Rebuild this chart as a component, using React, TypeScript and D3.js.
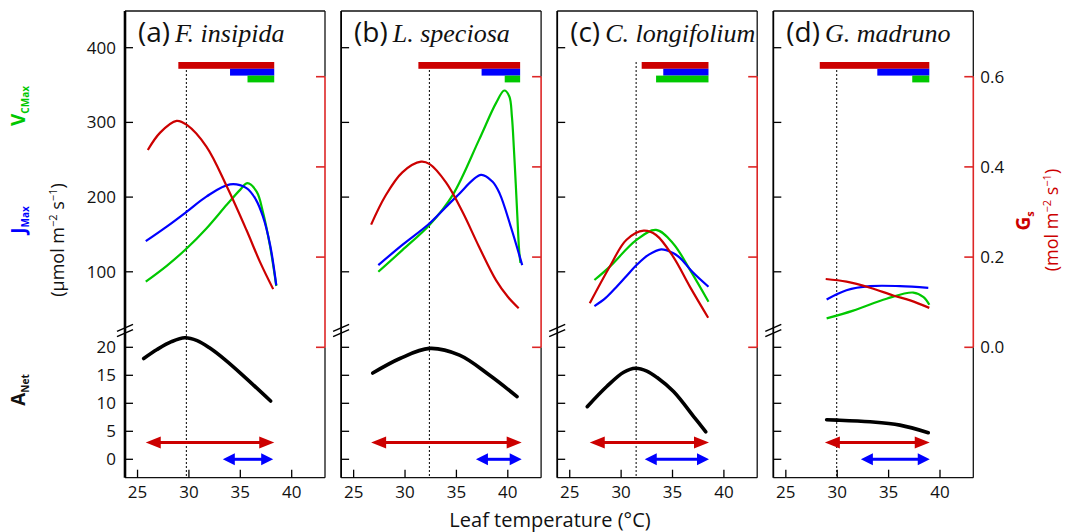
import React from "react";
import * as d3 from "d3";

// ---------- data ----------
const panelLetters = ["(a)", "(b)", "(c)", "(d)"];
const speciesNames = ["F. insipida", "L. speciosa", "C. longifolium", "G. madruno"];
const xTicks = [25, 30, 35, 40];
const vTicks = [100, 200, 300, 400];
const aTicks = [0, 5, 10, 15, 20];
const gsTicks = [0.0, 0.2, 0.4, 0.6];

// stomatal conductance Gs (mol m-2 s-1)
const gsTemps = [
  [26.0, 27.2, 28.8, 29.8, 31.7, 33.7, 35.6, 36.9, 38.2],
  [26.7, 28.07, 29.74, 31.56, 32.4, 34.0, 35.6, 37.2, 38.85, 40.0, 41.06],
  [26.95, 28.9, 30.5, 32.2, 33.4, 35.06, 36.7, 38.47],
  [28.88, 30.9, 33.2, 35.45, 37.1, 38.96],
];
const gsValues = [
  [0.4375, 0.476, 0.502, 0.493, 0.445, 0.356, 0.26, 0.19, 0.129],
  [0.272, 0.335, 0.388, 0.4115, 0.406, 0.365, 0.3, 0.223, 0.149, 0.112, 0.0865],
  [0.0975, 0.179, 0.238, 0.2586, 0.249, 0.201, 0.134, 0.0656],
  [0.1514, 0.1455, 0.132, 0.115, 0.104, 0.0874],
];

// Jmax (umol m-2 s-1)
const jTemps = [
  [25.8, 27.84, 29.8, 31.7, 34.0, 35.6, 36.5, 37.2, 37.9, 38.5],
  [27.4, 29.74, 32.4, 35.0, 37.4, 38.5, 39.2, 40.3, 41.4],
  [27.4, 28.5, 29.5, 30.5, 31.5, 32.7, 33.9, 35.0, 35.7, 37.0, 38.5],
  [28.97, 30.9, 33.2, 36.1, 38.86],
];
const jValues = [
  [141, 160.5, 180.6, 200.7, 217, 212, 197, 174, 136, 82],
  [109, 136, 165, 200.7, 229.7, 220.8, 205, 160, 109],
  [54, 65, 79, 94, 109, 123, 130, 125.5, 119, 99, 80],
  [63, 75.4, 80.8, 80.8, 78.6],
];

// Vcmax (umol m-2 s-1)
const vTemps = [
  [25.8, 27.84, 29.8, 31.7, 33.7, 35.0, 35.7, 36.6, 37.2, 37.9, 38.5],
  [27.4, 29.74, 32.4, 34.65, 37.2, 38.85, 39.66, 40.15, 40.4, 40.6, 40.77, 40.93, 41.1, 41.23],
  [27.4, 28.9, 31.5, 33.4, 35.06, 36.7, 38.5],
  [28.97, 31.56, 34.8, 37.4, 38.4, 38.96],
];
const vValues = [
  [86.8, 108, 131.5, 158, 190, 210, 218.6, 207, 180, 133.7, 81],
  [100, 129, 163, 203, 276.6, 325.8, 342.7, 334.6, 307.8, 263, 218.6, 174, 129, 112],
  [89, 107, 142.7, 156, 138, 102.5, 60],
  [37.6, 48, 64, 72.2, 66, 55.8],
];

// net assimilation ANet (umol m-2 s-1)
const aTemps = [
  [25.6, 26.9, 28.3, 29.6, 30.8, 32.0, 33.5, 35.3, 37.95],
  [26.86, 29.5, 32.37, 35.3, 38.2, 40.9],
  [26.7, 28.6, 30.25, 31.4, 32.5, 33.5, 35.1, 37.2, 38.24],
  [28.97, 30.0, 33.2, 36.1, 38.86],
];
const aValues = [
  [18.0, 19.6, 21.0, 21.7, 21.2, 19.9, 17.8, 14.9, 10.4],
  [15.4, 18.0, 19.8, 18.6, 15.05, 11.2],
  [9.4, 13.0, 15.55, 16.25, 15.75, 14.6, 12.1, 7.3, 4.9],
  [7.05, 7.0, 6.7, 6.1, 4.75],
];

// optimum temperature (dotted line)
const topt = [29.75, 32.37, 31.46, 29.95];

// ranges shown by top bars
const gsBarRanges = [[28.97, 38.3], [31.3, 41.2], [32.0, 38.5], [28.3, 38.96]];
const jBarRanges = [[34.0, 38.3], [37.45, 41.2], [34.1, 38.5], [33.9, 38.96]];
const vBarRanges = [[35.7, 38.3], [39.7, 41.2], [33.4, 38.5], [37.3, 38.96]];

// ranges shown by arrows
const redArrowRanges = [[25.8, 38.3], [26.7, 41.35], [26.95, 38.55], [28.8, 39.0]];
const blueArrowRanges = [[33.3, 38.2], [36.9, 41.35], [32.3, 38.55], [32.3, 39.0]];
const redArrowLevel = 3;
const blueArrowLevel = 0;

// ---------- styles ----------
const RED = "#cc0000";
const BLUE = "#0000ff";
const GREEN = "#00c800";
const AXRED = "#dd2626";
const SANS = "'Open Sans', 'DejaVu Sans', sans-serif";
const SERIF = "'Liberation Serif', 'DejaVu Serif', serif";

function Arrow({ x1, x2, y, color, hl, hh }: any) {
  return (
    <g>
      <line x1={x1 + hl - 1} x2={x2 - hl + 1} y1={y} y2={y} stroke={color} strokeWidth={3} />
      <path d={`M${x1},${y}L${x1 + hl},${y - hh}L${x1 + hl},${y + hh}Z`} fill={color} />
      <path d={`M${x2},${y}L${x2 - hl},${y - hh}L${x2 - hl},${y + hh}Z`} fill={color} />
    </g>
  );
}

export default function App() {
  const W = 1067, H = 532;
  const TOP = 11, BOTTOM = 477.7, PW = 200;
  const lefts = [0, 1, 2, 3].map((i) => 125 + i * 216.1);
  const yV = d3.scaleLinear().domain([0, 400]).range([346.5, 47.7]);
  const yG = d3.scaleLinear().domain([0, 0.6]).range([347.3, 76.7]);
  const yA = d3.scaleLinear().domain([0, 20]).range([459.3, 347.3]);
  const yBreak = 330.5;
  const barTop = 62, barH = 6.8;

  return (
    <svg width={W} height={H} style={{ position: "absolute", left: 0, top: 0, background: "#fff" }}>
      {lefts.map((L, i) => {
        const x = d3.scaleLinear().domain([23.78, 43.24]).range([L, L + PW]);
        const R = L + PW;
        const mk = (ts: number[], vs: number[], y: any) =>
          d3.line<number>().x((_, k) => x(ts[k])).y((v) => y(v)).curve(d3.curveCatmullRom.alpha(0.5))(vs) || "";
        const bars = [
          { r: gsBarRanges[i], c: RED, row: 0 },
          { r: jBarRanges[i], c: BLUE, row: 1 },
          { r: vBarRanges[i], c: GREEN, row: 2 },
        ];
        return (
          <g key={i}>
            {/* frame */}
            <line x1={L} x2={R} y1={TOP} y2={TOP} stroke="#111" strokeWidth={1.3} />
            <line x1={L} x2={R} y1={BOTTOM} y2={BOTTOM} stroke="#111" strokeWidth={1.3} />
            <line x1={R} x2={R} y1={TOP} y2={yG(0.6)} stroke="#111" strokeWidth={1.3} />
            <line x1={R} x2={R} y1={yG(0)} y2={BOTTOM} stroke="#111" strokeWidth={1.3} />
            <line x1={R} x2={R} y1={yG(0.6)} y2={yG(0)} stroke={AXRED} strokeWidth={1.6} />
            {gsTicks.map((t) => (
              <line key={t} x1={R - 9} x2={R} y1={yG(t)} y2={yG(t)} stroke={AXRED} strokeWidth={1.6} />
            ))}
            <line x1={L} x2={L} y1={TOP} y2={BOTTOM} stroke="#000" strokeWidth={i === 0 ? 2.6 : 1.8} />
            {vTicks.map((t) => (
              <line key={"v" + t} x1={L} x2={L + 8} y1={yV(t)} y2={yV(t)} stroke="#000" strokeWidth={1.3} />
            ))}
            {aTicks.map((t) => (
              <line key={"a" + t} x1={L} x2={L + 8} y1={yA(t)} y2={yA(t)} stroke="#000" strokeWidth={1.3} />
            ))}
            {xTicks.map((t) => (
              <line key={"x" + t} x1={x(t)} x2={x(t)} y1={BOTTOM} y2={BOTTOM - 8} stroke="#000" strokeWidth={1.3} />
            ))}
            {/* axis break */}
            {[-2.6, 2.6].map((d) => (
              <line key={d} x1={L - 8} x2={L + 8} y1={yBreak + d + 3.5} y2={yBreak + d - 3.5} stroke="#000" strokeWidth={1.5} />
            ))}
            {/* tick labels */}
            {xTicks.map((t) => (
              <text key={"xl" + t} x={x(t)} y={498} textAnchor="middle" fontFamily={SANS} fontSize={17} fill="#111">
                {t}
              </text>
            ))}
            {i === 0 &&
              vTicks.map((t) => (
                <text key={"vl" + t} x={L - 9} y={yV(t) + 6} textAnchor="end" fontFamily={SANS} fontSize={17} fill="#111">
                  {t}
                </text>
              ))}
            {i === 0 &&
              aTicks.map((t) => (
                <text key={"al" + t} x={L - 9} y={yA(t) + 6} textAnchor="end" fontFamily={SANS} fontSize={17} fill="#111">
                  {t}
                </text>
              ))}
            {i === 3 &&
              gsTicks.map((t) => (
                <text key={"gl" + t} x={R + 7} y={yG(t) + 6} textAnchor="start" fontFamily={SANS} fontSize={17} fill="#111">
                  {t.toFixed(1)}
                </text>
              ))}
            {/* title */}
            <text x={L + 13} y={42} fontFamily={SANS} fontSize={28} fill="#111">
              {panelLetters[i]}
              <tspan dx={5} fontFamily={SERIF} fontStyle="italic" fontSize={26}>
                {speciesNames[i]}
              </tspan>
            </text>
            {/* optimum dotted line */}
            <line x1={x(topt[i])} x2={x(topt[i])} y1={barTop} y2={BOTTOM} stroke="#000" strokeWidth={1} strokeDasharray="2,2" />
            {/* bars */}
            {bars.map((b) => (
              <rect key={b.row} x={x(b.r[0])} width={x(b.r[1]) - x(b.r[0])} y={barTop + b.row * barH} height={barH} fill={b.c} />
            ))}
            {/* curves */}
            <path d={mk(vTemps[i], vValues[i], yV)} fill="none" stroke={GREEN} strokeWidth={2.2} />
            <path d={mk(jTemps[i], jValues[i], yV)} fill="none" stroke={BLUE} strokeWidth={2.2} />
            <path d={mk(gsTemps[i], gsValues[i], yG)} fill="none" stroke={RED} strokeWidth={2.2} />
            <path d={mk(aTemps[i], aValues[i], yA)} fill="none" stroke="#000" strokeWidth={3.6} strokeLinecap="round" />
            {/* arrows */}
            <Arrow x1={x(redArrowRanges[i][0])} x2={x(redArrowRanges[i][1])} y={yA(redArrowLevel)} color={RED} hl={15} hh={6} />
            <Arrow x1={x(blueArrowRanges[i][0])} x2={x(blueArrowRanges[i][1])} y={yA(blueArrowLevel)} color={BLUE} hl={12} hh={6} />
          </g>
        );
      })}

      {/* left axis titles */}
      <text transform="translate(25,106) rotate(-90)" textAnchor="middle" fontFamily={SANS} fontWeight="bold" fill={GREEN} fontSize={19}>
        V<tspan fontSize={10} dy={4}>CMax</tspan>
      </text>
      <text transform="translate(25,220) rotate(-90)" textAnchor="middle" fontFamily={SANS} fontWeight="bold" fill={BLUE} fontSize={19}>
        J<tspan fontSize={10} dy={4}>Max</tspan>
      </text>
      <text transform="translate(64,240) rotate(-90)" textAnchor="middle" fontFamily={SANS} fill="#111" fontSize={18}>
        (μmol m<tspan fontSize={11} dy={-7}>−2</tspan>
        <tspan dy={7}> s</tspan>
        <tspan fontSize={11} dy={-7}>−1</tspan>
        <tspan dy={7}>)</tspan>
      </text>
      <text transform="translate(25,390) rotate(-90)" textAnchor="middle" fontFamily={SANS} fontWeight="bold" fill="#111" fontSize={19}>
        A<tspan fontSize={10} dy={4}>Net</tspan>
      </text>

      {/* right axis titles */}
      <text transform="translate(1030,221) rotate(-90)" textAnchor="middle" fontFamily={SANS} fontWeight="bold" fill={RED} fontSize={19}>
        G<tspan fontSize={11} dy={4}>s</tspan>
      </text>
      <text transform="translate(1058,220) rotate(-90)" textAnchor="middle" fontFamily={SANS} fill={RED} fontSize={18}>
        (mol m<tspan fontSize={11} dy={-7}>−2</tspan>
        <tspan dy={7}> s</tspan>
        <tspan fontSize={11} dy={-7}>−1</tspan>
        <tspan dy={7}>)</tspan>
      </text>

      {/* x axis title */}
      <text x={550} y={527} textAnchor="middle" fontFamily={SANS} fontSize={20} fill="#111">
        Leaf temperature (°C)
      </text>
    </svg>
  );
}
